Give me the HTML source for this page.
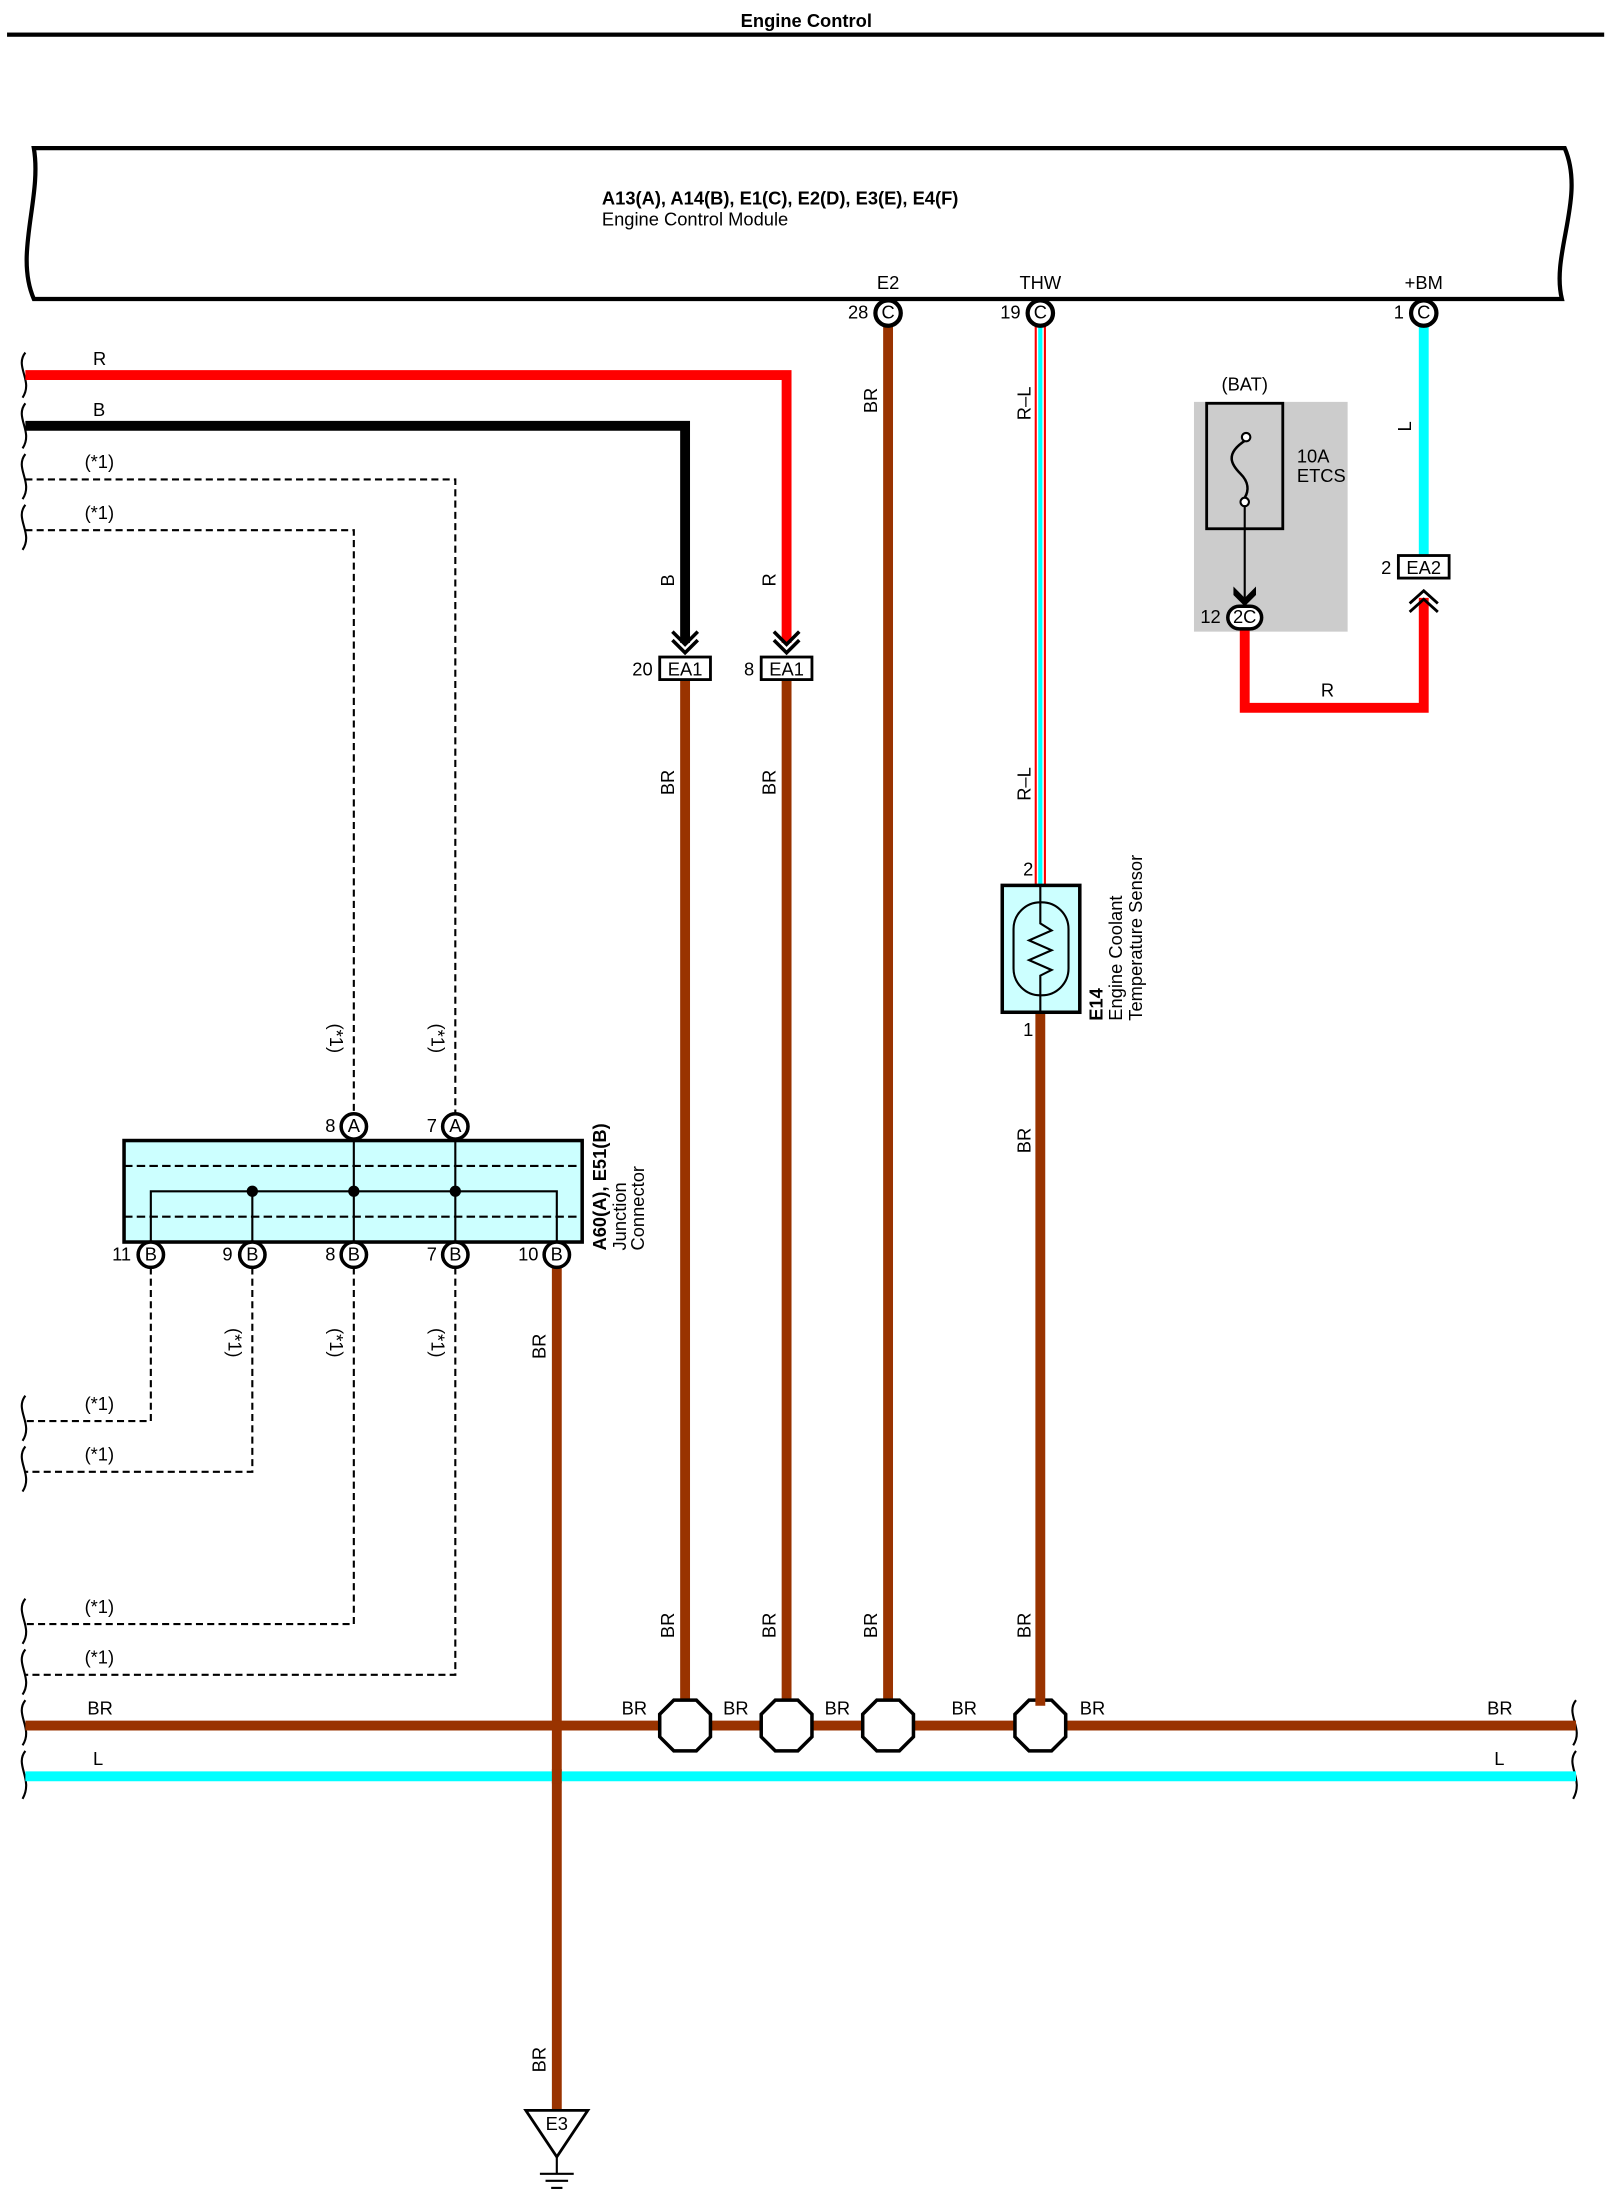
<!DOCTYPE html>
<html><head><meta charset="utf-8"><style>
html,body{margin:0;padding:0;background:#fff}
svg{display:block}
text{font-family:"Liberation Sans",sans-serif;font-size:13px;fill:#000}
.b{font-weight:bold}
</style></head><body>
<svg width="1607" height="2212" viewBox="0 0 1140 1569" xmlns="http://www.w3.org/2000/svg">
<text x="572" y="19" text-anchor="middle" class="b" font-size="16">Engine Control</text>
<rect x="5" y="23" width="1133" height="3" fill="#000"/>
<!-- ECM -->
<path d="M24,105 L1110,105 C1125,140 1100,180 1108,212 L24,212 C10,180 30,140 24,105 Z" fill="#fff" stroke="#000" stroke-width="3"/>
<text x="427" y="145" class="b" font-size="12">A13(A), A14(B), E1(C), E2(D), E3(E), E4(F)</text>
<text x="427" y="160" font-size="12">Engine Control Module</text>
<text x="630" y="205" text-anchor="middle" font-size="12">E2</text>
<text x="738" y="205" text-anchor="middle" font-size="12">THW</text>
<text x="1010" y="205" text-anchor="middle" font-size="12">+BM</text>
<!-- wires from ECM -->
<line x1="630" y1="230" x2="630" y2="1210" stroke="#993300" stroke-width="7"/>
<line x1="738" y1="230" x2="738" y2="628" stroke="#ff0000" stroke-width="8"/>
<line x1="738" y1="230" x2="738" y2="628" stroke="#fff" stroke-width="5"/>
<line x1="738" y1="230" x2="738" y2="628" stroke="#00ffff" stroke-width="3"/>
<line x1="1010" y1="230" x2="1010" y2="394" stroke="#00ffff" stroke-width="7"/>
<g fill="#fff" stroke="#000" stroke-width="3">
<circle cx="630" cy="222" r="9"/><circle cx="738" cy="222" r="9"/><circle cx="1010" cy="222" r="9"/>
</g>
<g font-size="12" text-anchor="middle">
<text x="630" y="226">C</text><text x="738" y="226">C</text><text x="1010" y="226">C</text>
</g>
<text x="616" y="226" text-anchor="end" font-size="12">28</text>
<text x="724" y="226" text-anchor="end" font-size="12">19</text>
<text x="996" y="226" text-anchor="end" font-size="12">1</text>
<g font-size="12">
<text transform="translate(622,293) rotate(-90)">BR</text>
<text transform="translate(731,298) rotate(-90)">R–L</text>
<text transform="translate(731,568) rotate(-90)">R–L</text>
<text transform="translate(1001,306) rotate(-90)">L</text>
</g>
<!-- left wavy edges -->
<g fill="none" stroke="#000" stroke-width="1.5">
<path d="M18,250 C10,260 24,270 16,282"/><path d="M18,286 C10,296 24,306 16,318"/>
<path d="M18,322 C10,332 24,342 16,354"/><path d="M18,358 C10,368 24,378 16,390"/>
<path d="M18,990 C10,1000 24,1010 16,1022"/><path d="M18,1026 C10,1036 24,1046 16,1058"/>
<path d="M18,1134 C10,1144 24,1154 16,1166"/><path d="M18,1170 C10,1180 24,1190 16,1202"/>
<path d="M18,1206 C10,1216 24,1226 16,1238"/><path d="M18,1242 C10,1252 24,1262 16,1276"/>
<path d="M1118,1206 C1110,1216 1124,1226 1116,1238"/><path d="M1118,1242 C1110,1252 1124,1262 1116,1276"/>
</g>
<!-- R and B wires -->
<path d="M18,266 L558,266 L558,456" fill="none" stroke="#ff0000" stroke-width="7"/>
<path d="M18,302 L486,302 L486,456" fill="none" stroke="#000" stroke-width="7"/>
<text x="66" y="259" font-size="12">R</text>
<text x="66" y="295" font-size="12">B</text>
<g fill="none" stroke="#000" stroke-width="2.5">
<path d="M477,448 L486,457 L495,448"/><path d="M477,454 L486,463 L495,454"/>
<path d="M549,448 L558,457 L567,448"/><path d="M549,454 L558,463 L567,454"/>
</g>
<text transform="translate(478,416) rotate(-90)" font-size="12">B</text>
<text transform="translate(550,416) rotate(-90)" font-size="12">R</text>
<g fill="#fff" stroke="#000" stroke-width="2">
<rect x="468" y="466" width="36" height="16"/><rect x="540" y="466" width="36" height="16"/>
</g>
<text x="486" y="479" text-anchor="middle" font-size="12">EA1</text>
<text x="558" y="479" text-anchor="middle" font-size="12">EA1</text>
<text x="463" y="479" text-anchor="end" font-size="12">20</text>
<text x="535" y="479" text-anchor="end" font-size="12">8</text>
<line x1="486" y1="483" x2="486" y2="1210" stroke="#993300" stroke-width="7"/>
<line x1="558" y1="483" x2="558" y2="1210" stroke="#993300" stroke-width="7"/>
<g font-size="12">
<text transform="translate(478,564) rotate(-90)">BR</text>
<text transform="translate(550,564) rotate(-90)">BR</text>
<text transform="translate(478,1162) rotate(-90)">BR</text>
<text transform="translate(550,1162) rotate(-90)">BR</text>
<text transform="translate(622,1162) rotate(-90)">BR</text>
<text transform="translate(731,1162) rotate(-90)">BR</text>
<text transform="translate(731,818) rotate(-90)">BR</text>
<text transform="translate(387,964) rotate(-90)">BR</text>
<text transform="translate(387,1470) rotate(-90)">BR</text>
</g>
<!-- dashed wires -->
<g fill="none" stroke="#000" stroke-width="1.5" stroke-dasharray="5,3">
<path d="M18,340 L323,340 L323,790"/><path d="M18,376 L251,376 L251,790"/>
<path d="M107,899 L107,1008 L18,1008"/><path d="M179,899 L179,1044 L18,1044"/>
<path d="M251,899 L251,1152 L18,1152"/><path d="M323,899 L323,1188 L18,1188"/>
</g>
<g font-size="12">
<text x="60" y="332">(*1)</text><text x="60" y="368">(*1)</text>
<text x="60" y="1000">(*1)</text><text x="60" y="1036">(*1)</text>
<text x="60" y="1144">(*1)</text><text x="60" y="1180">(*1)</text>
<text transform="translate(234,726) rotate(90)">(*1)</text>
<text transform="translate(306,726) rotate(90)">(*1)</text>
<text transform="translate(162,942) rotate(90)">(*1)</text>
<text transform="translate(234,942) rotate(90)">(*1)</text>
<text transform="translate(306,942) rotate(90)">(*1)</text>
</g>
<!-- junction connector -->
<rect x="88" y="809" width="325" height="72" fill="#ccffff" stroke="#000" stroke-width="2.5"/>
<g stroke="#000" stroke-width="1.5" stroke-dasharray="6,3">
<line x1="88" y1="827" x2="413" y2="827"/><line x1="88" y1="863" x2="413" y2="863"/>
</g>
<g fill="none" stroke="#000" stroke-width="1.5">
<path d="M107,881 L107,845 L395,845 L395,881"/>
<line x1="179" y1="845" x2="179" y2="881"/>
<line x1="251" y1="809" x2="251" y2="881"/>
<line x1="323" y1="809" x2="323" y2="881"/>
</g>
<g fill="#000"><circle cx="179" cy="845" r="4"/><circle cx="251" cy="845" r="4"/><circle cx="323" cy="845" r="4"/></g>
<line x1="395" y1="898" x2="395" y2="1496" stroke="#993300" stroke-width="7"/>
<g fill="#fff" stroke="#000" stroke-width="2.5">
<circle cx="251" cy="799" r="9"/><circle cx="323" cy="799" r="9"/>
<circle cx="107" cy="890" r="9"/><circle cx="179" cy="890" r="9"/><circle cx="251" cy="890" r="9"/><circle cx="323" cy="890" r="9"/><circle cx="395" cy="890" r="9"/>
</g>
<g font-size="12" text-anchor="middle">
<text x="251" y="803">A</text><text x="323" y="803">A</text>
<text x="107" y="894">B</text><text x="179" y="894">B</text><text x="251" y="894">B</text><text x="323" y="894">B</text><text x="395" y="894">B</text>
</g>
<g font-size="12" text-anchor="end">
<text x="238" y="803">8</text><text x="310" y="803">7</text>
<text x="93" y="894">11</text><text x="165" y="894">9</text><text x="238" y="894">8</text><text x="310" y="894">7</text><text x="382" y="894">10</text>
</g>
<text transform="translate(430,887) rotate(-90)" class="b" font-size="12">A60(A), E51(B)</text>
<text transform="translate(444,887) rotate(-90)" font-size="12">Junction</text>
<text transform="translate(457,887) rotate(-90)" font-size="12">Connector</text>
<!-- buses -->
<line x1="18" y1="1224" x2="1118" y2="1224" stroke="#993300" stroke-width="7"/>
<line x1="18" y1="1260" x2="1118" y2="1260" stroke="#00ffff" stroke-width="7"/>
<line x1="395" y1="1255" x2="395" y2="1265" stroke="#993300" stroke-width="7"/>
<g font-size="12">
<text x="62" y="1216">BR</text><text x="441" y="1216">BR</text><text x="513" y="1216">BR</text><text x="585" y="1216">BR</text><text x="675" y="1216">BR</text><text x="766" y="1216">BR</text><text x="1055" y="1216">BR</text>
<text x="66" y="1252">L</text><text x="1060" y="1252">L</text>
</g>
<g fill="#fff" stroke="#000" stroke-width="2.5">
<polygon points="478,1206 494,1206 504,1216 504,1232 494,1242 478,1242 468,1232 468,1216"/>
<polygon points="550,1206 566,1206 576,1216 576,1232 566,1242 550,1242 540,1232 540,1216"/>
<polygon points="622,1206 638,1206 648,1216 648,1232 638,1242 622,1242 612,1232 612,1216"/>
<polygon points="730,1206 746,1206 756,1216 756,1232 746,1242 730,1242 720,1232 720,1216"/>
</g>
<!-- ground -->
<polygon points="373,1497 417,1497 395,1530" fill="#fff" stroke="#000" stroke-width="2"/>
<text x="395" y="1511" text-anchor="middle" font-size="11">E3</text>
<g stroke="#000" stroke-width="1.5">
<line x1="395" y1="1530" x2="395" y2="1542"/>
<line x1="383" y1="1542" x2="407" y2="1542"/><line x1="387" y1="1547" x2="403" y2="1547"/><line x1="391" y1="1552" x2="399" y2="1552"/>
</g>
<!-- sensor -->
<line x1="738" y1="718" x2="738" y2="1210" stroke="#993300" stroke-width="7"/>
<rect x="711" y="628" width="55" height="90" fill="#ccffff" stroke="#000" stroke-width="2.5"/>
<rect x="719" y="640" width="39" height="66" rx="19" fill="none" stroke="#000" stroke-width="1.5"/>
<path d="M738,628 L738,655 L746,660 L730,667 L746,674 L730,681 L746,688 L738,692 L738,718" fill="none" stroke="#000" stroke-width="1.5"/>
<text x="733" y="621" text-anchor="end" font-size="12">2</text>
<text x="733" y="735" text-anchor="end" font-size="12">1</text>
<text transform="translate(782,724) rotate(-90)" class="b" font-size="12">E14</text>
<text transform="translate(796,724) rotate(-90)" font-size="12">Engine Coolant</text>
<text transform="translate(810,724) rotate(-90)" font-size="12">Temperature Sensor</text>
<!-- fuse -->
<rect x="847" y="285" width="109" height="163" fill="#cccccc"/>
<text x="883" y="277" text-anchor="middle" font-size="12">(BAT)</text>
<rect x="856" y="286" width="54" height="89" fill="none" stroke="#000" stroke-width="2"/>
<path d="M884,312 C868,322 874,330 880,336 C886,342 886,348 883,353" fill="none" stroke="#000" stroke-width="1.8"/>
<circle cx="884" cy="310" r="3" fill="#fff" stroke="#000" stroke-width="1.5"/>
<circle cx="883" cy="356" r="3" fill="#fff" stroke="#000" stroke-width="1.5"/>
<line x1="883" y1="359" x2="883" y2="424" stroke="#000" stroke-width="1.5"/>
<path d="M875,416 L883,424 L891,416 L891,422 L883,430 L875,422 Z" fill="#000"/>
<text x="920" y="328" font-size="12">10A</text>
<text x="920" y="342" font-size="12">ETCS</text>
<path d="M883,446 L883,502 L1010,502 L1010,424" fill="none" stroke="#ff0000" stroke-width="7"/>
<text x="937" y="494" font-size="12">R</text>
<rect x="871" y="430" width="24" height="16" rx="8" fill="#fff" stroke="#000" stroke-width="2.5"/>
<text x="883" y="442" text-anchor="middle" font-size="12">2C</text>
<text x="866" y="442" text-anchor="end" font-size="12">12</text>
<g fill="none" stroke="#000" stroke-width="2">
<path d="M1000,428 L1010,419 L1020,428"/><path d="M1000,434 L1010,425 L1020,434"/>
</g>
<rect x="992" y="394" width="36" height="16" fill="#fff" stroke="#000" stroke-width="2"/>
<text x="1010" y="407" text-anchor="middle" font-size="12">EA2</text>
<text x="987" y="407" text-anchor="end" font-size="12">2</text>
</svg>
</body></html>
